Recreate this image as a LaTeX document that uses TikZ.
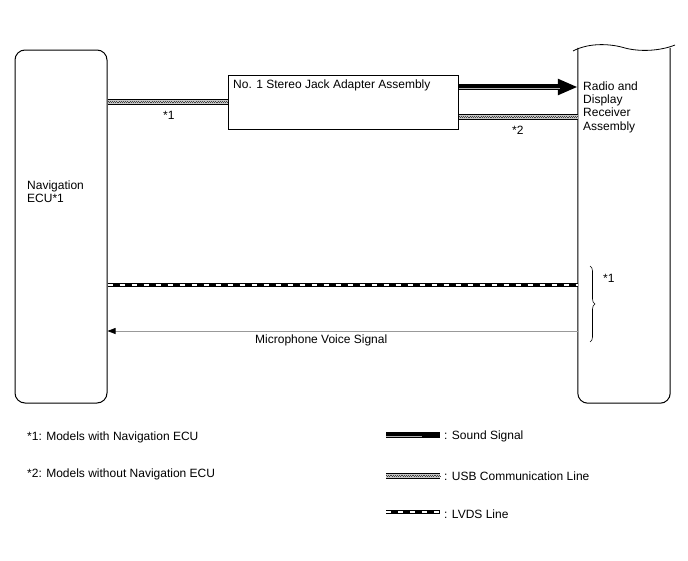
\documentclass[tikz,border=0pt]{standalone}
\usepackage{fontspec}
\setmainfont{Liberation Sans}
\usetikzlibrary{arrows.meta}
\usetikzlibrary{positioning}
\usetikzlibrary{decorations.pathreplacing}

\begin{document}
\begin{tikzpicture}[x=1pt,y=-1pt,font=\fontsize{12}{13.3}\selectfont,
  main node/.style={rectangle,draw,line width=1pt,inner sep=0pt},
  text node/.style={anchor=west,inner sep=0pt,align=left},
  usb line/.style={draw=black,line width=6pt,
    postaction={draw=gray!45,line width=4.4pt},
    postaction={draw=black!75,line width=1.1pt,dash pattern=on 1.1pt off 1.1pt,transform canvas={yshift=0.6pt}},
    postaction={draw=black!75,line width=1.1pt,dash pattern=on 1.1pt off 1.1pt,dash phase=1.1pt,transform canvas={yshift=-0.6pt}}},
  sound line/.style={draw=black,line width=6pt,
    postaction={draw=gray!60,line width=1pt,transform canvas={yshift=-1.5pt},-,shorten >=18pt}},
  lvds line/.style={draw=black,line width=4pt,
    postaction={draw=white,line width=2pt,dash pattern=on 5pt off 7pt}},
  voice line/.style={draw=gray!80,line width=0.7pt}]

  \useasboundingbox (0,0) rectangle (688,560);

  % units
  \node[main node,rounded corners=10pt,minimum width=92pt,minimum height=353pt] (ecu) at (61,226.5) {};
  \node[main node,minimum width=230pt,minimum height=54pt] (adapter) at (343,102) {};
  \node[inner sep=0pt,minimum width=92pt,minimum height=355pt] (radio) at (624,225.5) {};
  \draw[line width=1pt,rounded corners=10pt] (radio.north west) -- (radio.south west) -- (radio.south east) -- (radio.north east);
  \draw[line width=0.8pt] (573,51) .. controls (590,42) and (612,44) .. (625,48) .. controls (640,52) and (660,51) .. (675,45);

  \node[text node] (ecutext) at (27,192) {Navigation\\ECU*1};
  \node[text node] (adaptertext) at (233,85) {No. 1 Stereo Jack Adapter Assembly};
  \node[text node] (radiotext) at (583,107) {Radio and\\Display\\Receiver\\Assembly};

  % signal lines
  \coordinate (snd) at (0,87);
  \coordinate (usb) at (0,117);
  \coordinate (lvds) at (0,285);
  \coordinate (mic) at (0,331);

  \draw[usb line] (ecu.east |- adapter.west) -- (adapter.west);
  \draw[sound line,-{Triangle[length=20pt,width=15pt]}] (adapter.east |- snd) -- (radio.west |- snd);
  \draw[usb line] (adapter.east |- usb) -- (radio.west |- usb);
  \draw[lvds line] (ecu.east |- lvds) -- (radio.west |- lvds);
  \draw[voice line,-{Triangle[length=8pt,width=6pt,color=black]}] (radio.west |- mic) -- (ecu.east |- mic);

  \node[text node] (n1) at (163,115) {*1};
  \node[text node] (n2) at (512,130) {*2};
  \node[text node] (mictext) at (255,340) {Microphone Voice Signal};

  \draw[decorate,decoration={brace,amplitude=5pt},line width=0.6pt] (590,266) -- (590,342);
  \node[text node] (n3) at (603,278) {*1};

  % legend
  \node[text node] (note1) at (27,437) {*1: Models with Navigation ECU};
  \node[text node] (note2) at (27,474) {*2: Models without Navigation ECU};
  \node[text node] (lsnd) at (444,436) {: Sound Signal};
  \node[text node] (lusb) at (444,476) {: USB Communication Line};
  \node[text node] (llvds) at (444,514) {: LVDS Line};
  \draw[sound line] ([xshift=-58pt,yshift=1pt]lsnd.west) -- ([xshift=-4pt,yshift=1pt]lsnd.west);
  \draw[usb line] ([xshift=-58pt]lusb.west) -- ([xshift=-4pt]lusb.west);
  \draw[lvds line] ([xshift=-58pt,yshift=2pt]llvds.west) -- ([xshift=-4pt,yshift=2pt]llvds.west);
\end{tikzpicture}
\end{document}
